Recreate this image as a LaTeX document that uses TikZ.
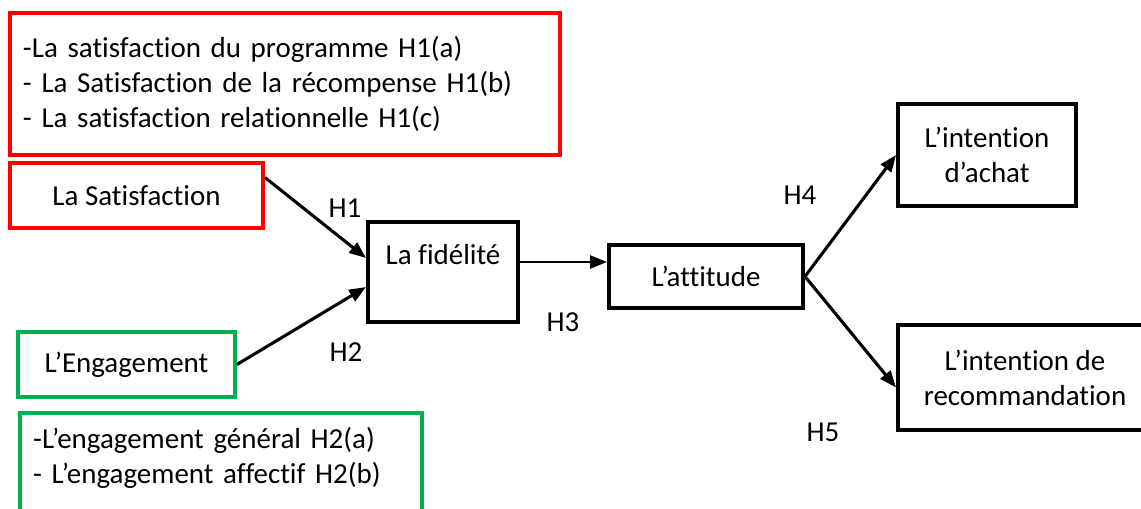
\documentclass[tikz,border=0pt]{standalone}
\usepackage{fontspec}
\setmainfont{Carlito}[Ligatures=NoCommon]
\usetikzlibrary{positioning,arrows.meta}
\definecolor{boxred}{RGB}{255,0,0}
\definecolor{boxgreen}{RGB}{0,176,80}

\begin{document}
\begin{tikzpicture}[
    font=\fontsize{20.6}{25}\selectfont,
    varbox/.style={draw, line width=2.8pt, align=center, inner sep=0pt},
    listbox/.style={draw, line width=2.8pt, align=left, inner xsep=0.33cm},
    link/.style={line width=2.2pt, -{Triangle[length=0.42cm, width=0.32cm]}}
]
    \clip (0,0) rectangle (28.525,12.7);

    % Satisfaction side
    \node[listbox, draw=boxred, text width=13.1cm, minimum height=3.55cm, inner ysep=0pt] (satlist) at (7.125,10.6)
        {-La satisfaction du programme H1(a)\\- La Satisfaction de la récompense H1(b)\\- La satisfaction relationnelle H1(c)};
    \node[varbox, draw=boxred, minimum width=6.325cm, minimum height=1.625cm] (satis) at (3.4125,7.8125) {La Satisfaction};

    % Engagement side
    \node[varbox, draw=boxgreen, minimum width=5.425cm, minimum height=1.625cm] (engag) at (3.1625,3.5875) {L’Engagement};
    \node[listbox, draw=boxgreen, text width=9.4cm, inner ysep=0.35cm, anchor=north west] (englist) at (0.45,2.425)
        {-L’engagement général H2(a)\\- L’engagement affectif H2(b)\\ ~};

    % Core chain
    \node[varbox, minimum width=3.75cm, minimum height=2.5cm] (fidel) at (11.075,5.9) {La fidélité\\ ~};
    \node[varbox, minimum width=4.85cm, minimum height=1.575cm] (attit) at (17.65,5.7875) {L’attitude};
    \node[varbox, minimum width=4.45cm, minimum height=2.55cm] (achat) at (24.675,8.825) {L’intention\\d’achat};
    \node[varbox, minimum width=6.35cm, minimum height=2.625cm] (recom) at (25.625,3.2625) {L’intention de\\recommandation};

    % Links
    \draw[link] ([yshift=0.45cm]satis.east) -- ([yshift=0.35cm]fidel.west);
    \draw[link] (engag.east) -- ([yshift=-0.375cm]fidel.west);
    \draw[link, line width=1.8pt] ([yshift=0.25cm]fidel.east) -- ([yshift=0.25cm]fidel.east -| attit.west);
    \draw[link] (attit.east) -- (achat.west);
    \draw[link] (attit.east) -- ([yshift=-0.25cm]recom.west);

    % Hypotheses
    \node (h1) at (8.625,7.5) {H1};
    \node (h2) at (8.65,3.9) {H2};
    \node (h3) at (14.075,4.65) {H3};
    \node (h4) at (20,7.825) {H4};
    \node (h5) at (20.575,1.9) {H5};
\end{tikzpicture}
\end{document}
